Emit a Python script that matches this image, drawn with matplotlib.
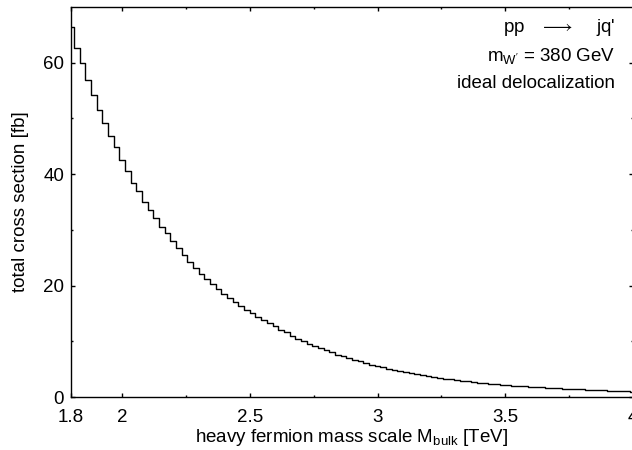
"""
pp -> jq' 全断面積 vs M_bulk (ステップ表示)
"""

import numpy as np
import matplotlib
matplotlib.use('Agg')
import matplotlib.pyplot as plt
from matplotlib.ticker import FixedLocator

plt.rcParams['font.family'] = ['Liberation Sans', 'DejaVu Sans']
plt.rcParams['mathtext.fontset'] = 'custom'
plt.rcParams['mathtext.rm'] = 'Liberation Sans'
plt.rcParams['mathtext.it'] = 'Liberation Sans:italic'
plt.rcParams['mathtext.bf'] = 'Liberation Sans:bold'

# データ (M_bulk: 1.8 - 4.0 TeV, 100点)
m_start = 1.8
m_stop = 4.0
n_points = 100
cross_section = [
    66.5, 62.7, 59.9, 56.9, 54.2, 51.5, 49.2, 46.9, 44.8, 42.6, 40.5, 38.5,
    36.9, 35.0, 33.6, 32.1, 30.6, 29.4, 28.0, 26.8,
    25.4, 24.3, 23.1, 22.1, 21.2, 20.3, 19.4, 18.5, 17.7,
    17.0, 16.3, 15.6, 15.0, 14.4, 13.9, 13.3, 12.7, 12.1, 11.6, 11.0,
    10.5, 10.0, 9.6, 9.2, 8.8, 8.4, 8.0, 7.6, 7.3, 7.0,
    6.7, 6.4, 6.1, 5.8, 5.6, 5.3, 5.1, 4.9, 4.7, 4.5,
    4.3, 4.1, 3.9, 3.75, 3.6, 3.45, 3.3, 3.15, 3.0, 2.9,
    2.8, 2.7, 2.6, 2.5, 2.4, 2.3, 2.22, 2.14, 2.06, 1.99,
    1.92, 1.85, 1.79, 1.73, 1.67, 1.62, 1.57, 1.52, 1.47, 1.42,
    1.36, 1.31, 1.27, 1.22, 1.18, 1.14, 1.10, 1.06, 1.02, 0.98,
]
mass = np.linspace(m_start, m_stop, n_points)

x_major = [1.8, 2, 2.5, 3, 3.5, 4]
x_labels = ['1.8', '2', '2.5', '3', '3.5', '4']
x_minor = [2.25, 2.75, 3.25, 3.75]
y_major = [0, 20, 40, 60]
y_minor = [10, 30, 50]

annotations = [
    r"pp   $\longrightarrow$    jq'",
    r"m$_{\mathrm{W'}}$ = 380 GeV",
    "ideal delocalization",
]

fs = 13.5

fig = plt.figure(figsize=(6.32, 4.5), dpi=100)
ax = fig.add_axes([71 / 632, 1 - 397 / 450, 562 / 632, 390 / 450])

ax.step(mass, cross_section, where='mid', color='black', linewidth=1.0)

ax.set_xlim(m_start, m_stop)
ax.set_ylim(0, 70)

ax.xaxis.set_major_locator(FixedLocator(x_major))
ax.set_xticklabels(x_labels)
ax.xaxis.set_minor_locator(FixedLocator(x_minor))
ax.yaxis.set_major_locator(FixedLocator(y_major))
ax.yaxis.set_minor_locator(FixedLocator(y_minor))

ax.tick_params(which='both', direction='in', top=True, right=True,
               width=1.0, labelsize=fs)
ax.tick_params(which='major', length=3.0)
ax.tick_params(which='minor', length=1.5)
ax.tick_params(axis='x', which='major', pad=9)
ax.tick_params(axis='y', which='major', pad=5)
for sp in ax.spines.values():
    sp.set_linewidth(1.0)

ax.set_xlabel(r"heavy fermion mass scale M$_{\mathrm{bulk}}$ [TeV]",
              fontsize=fs, labelpad=0)
ax.set_ylabel("total cross section [fb]", fontsize=fs, labelpad=10)

# 右上の注記
for i, txt in enumerate(annotations):
    fig.text(615 / 632, 1 - (28 + 28 * i) / 450, txt, ha='right',
             va='center', fontsize=fs)

fig.savefig('out.png', dpi=100, facecolor='white')
